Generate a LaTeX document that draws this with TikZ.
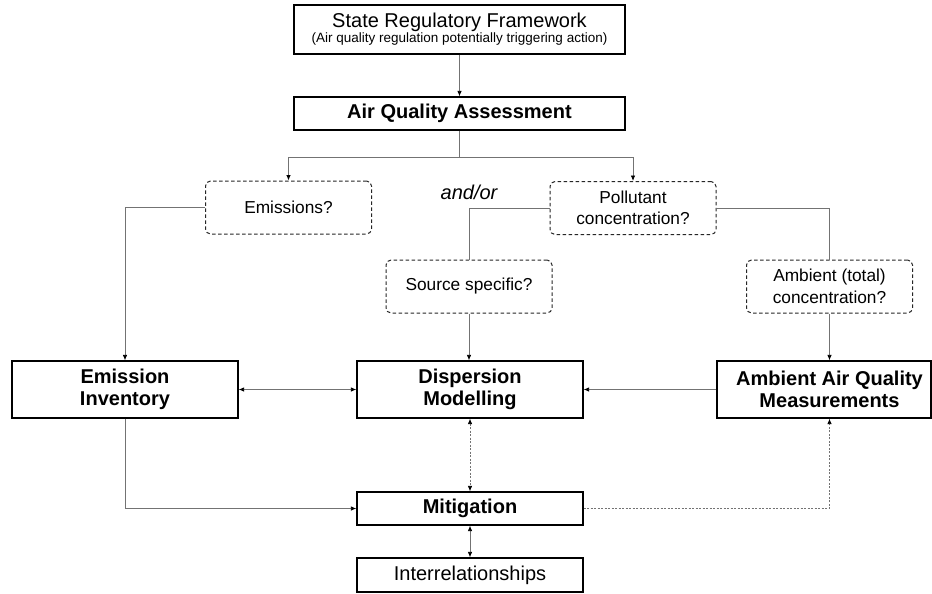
\documentclass[tikz,border=0pt]{standalone}
\usepackage{fontspec}
\setmainfont{Liberation Sans}
\usetikzlibrary{arrows.meta,calc}
\begin{document}
\begin{tikzpicture}[x=1pt,y=-1pt,
 box/.style={draw=black,line width=1.2pt,inner sep=0pt,align=center,font=\fontsize{20}{22.5}\selectfont\bfseries},
 qbox/.style={draw=black!85,dash pattern=on 3.5pt off 2.5pt,rounded corners=5pt,line width=1pt,minimum width=166pt,minimum height=53pt,inner sep=0pt,align=center,font=\fontsize{17.3}{21.5}\selectfont},
 conn/.style={draw=black!55,line width=0.8pt},
 tipa/.tip={Latex[length=5.5pt,width=4.5pt,color=black]},
 arr/.style={conn,-tipa},
 barr/.style={conn,tipa-tipa},
 dotline/.style={dash pattern=on 2pt off 1.5pt}]
\fill[white] (0,0) rectangle (932,594);
\useasboundingbox (0,0) rectangle (932,594);
% nodes
\node[box,minimum width=331pt,minimum height=49pt,font=\normalfont] (srf) at (459.5,29.5)
 {\fontsize{20}{24}\selectfont State Regulatory Framework\\ \fontsize{13.5}{17}\selectfont (Air quality regulation potentially triggering action)};
\node[box,minimum width=331pt,minimum height=33pt] (aqa) at (459.5,113.5) {Air Quality Assessment};
\node[qbox] (em) at (288.5,207.5) {Emissions?};
\node[qbox] (pol) at (633,208) {Pollutant\\concentration?};
\node[font=\itshape\fontsize{20}{24}\selectfont,inner sep=0pt] (andor) at (469,192) {and/or};
\node[qbox] (src) at (469,286.5) {Source specific?};
\node[qbox] (amq) at (829.5,286.5) {Ambient (total)\\concentration?};
\node[box,minimum width=226pt,minimum height=57pt] (ei) at (125,389.5) {Emission\\Inventory};
\node[box,minimum width=226pt,minimum height=57pt] (dm) at (470,389.5) {Dispersion\\Modelling};
\node[box,minimum width=214pt,minimum height=57pt] (aaqm) at (824,389.5) {\hspace*{11pt}Ambient Air Quality\\\hspace*{11pt}Measurements};
\node[box,minimum width=226pt,minimum height=33pt] (mit) at (470,508.5) {Mitigation};
\node[box,minimum width=226pt,minimum height=34pt,font=\fontsize{20}{22}\selectfont] (int) at (470,575) {Interrelationships};
% connectors
\coordinate (j) at (459.5,157);
\draw[arr] (srf) -- (aqa);
\draw[conn] (aqa.south) -- (j);
\draw[arr] (j) -| (em.north);
\draw[arr] (j) -| (pol.north);
\draw[arr] (em.west) -| (ei.north);
\draw[conn] (pol.west) -| (src.north);
\draw[arr] (src.south) -- (src.south |- dm.north);
\draw[conn] (pol.east) -| (amq.north);
\draw[arr] (amq.south) -- (amq.south |- aaqm.north);
\draw[barr] (ei.east) -- (dm.west);
\draw[arr] (aaqm.west) -- (dm.east);
\draw[arr] (ei.south) |- (mit.west);
\draw[barr,dotline] (dm.south) -- (mit.north);
\draw[arr,dotline] (mit.east) -| (amq.south |- aaqm.south);
\draw[barr] (mit.south) -- (int.north);
\end{tikzpicture}
\end{document}
